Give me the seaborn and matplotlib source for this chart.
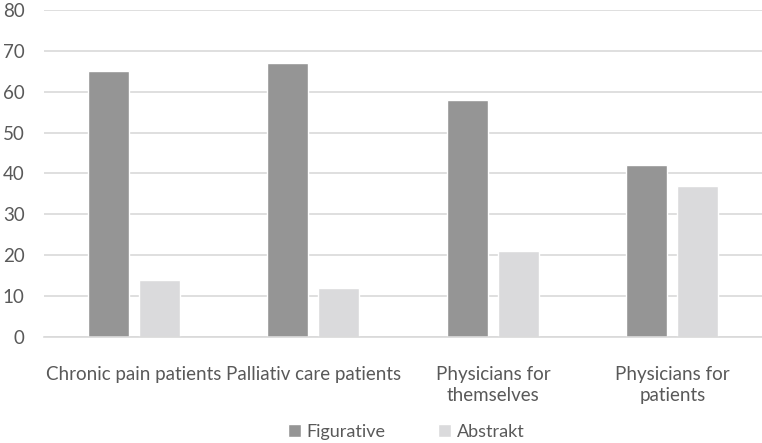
import pandas as pd
import matplotlib
matplotlib.use("Agg")
from matplotlib import pyplot as plt
import seaborn as sns

categories = ["Chronic pain patients", "Palliativ care patients",
              "Physicians for\nthemselves", "Physicians for\npatients"]
figurative = [65, 67, 58, 42]
abstrakt = [14, 12, 21, 37]
series = ["Figurative", "Abstrakt"]

df = pd.DataFrame({
    "category": categories * 2,
    "value": figurative + abstrakt,
    "group": ["Figurative"] * 4 + ["Abstrakt"] * 4,
})

sns.set_theme(style="white")
plt.rcParams["font.family"] = ["Lato", "DejaVu Sans"]

fig, ax = plt.subplots(figsize=(7.62, 4.43), dpi=100)
fig.subplots_adjust(left=0.058, right=1.0, top=0.977, bottom=0.24)

sns.barplot(data=df, x="category", y="value", hue="group", hue_order=series,
            palette=["#959595", "#dadadc"], width=0.568, gap=0.196,
            ax=ax, saturation=1)

ax.set_ylim(0, 80)
ax.set_yticks(range(0, 81, 10))
ax.yaxis.grid(True, color="#d9d9d9", linewidth=1.2)
ax.set_axisbelow(True)
ax.set_xlim(-0.5, 3.5)
ax.set_xlabel("")
ax.set_ylabel("")
for s in ["left", "right", "top"]:
    ax.spines[s].set_visible(False)
ax.spines["bottom"].set_color("#d9d9d9")
ax.spines["bottom"].set_linewidth(1.2)
ax.tick_params(axis="both", length=0, labelsize=13.5, colors="#595959")
ax.tick_params(axis="x", pad=21)
ax.tick_params(axis="y", pad=14)
for lbl in ax.get_xticklabels():
    lbl.set_linespacing(1.3)

ax.legend(loc="center", bbox_to_anchor=(0.533, 0.025), bbox_transform=fig.transFigure,
          ncol=2, frameon=False,
          fontsize=13, labelcolor="#595959", handlelength=0.75, handleheight=0.75,
          handletextpad=0.3, columnspacing=2.9)

fig.savefig("out.png", dpi=100)
